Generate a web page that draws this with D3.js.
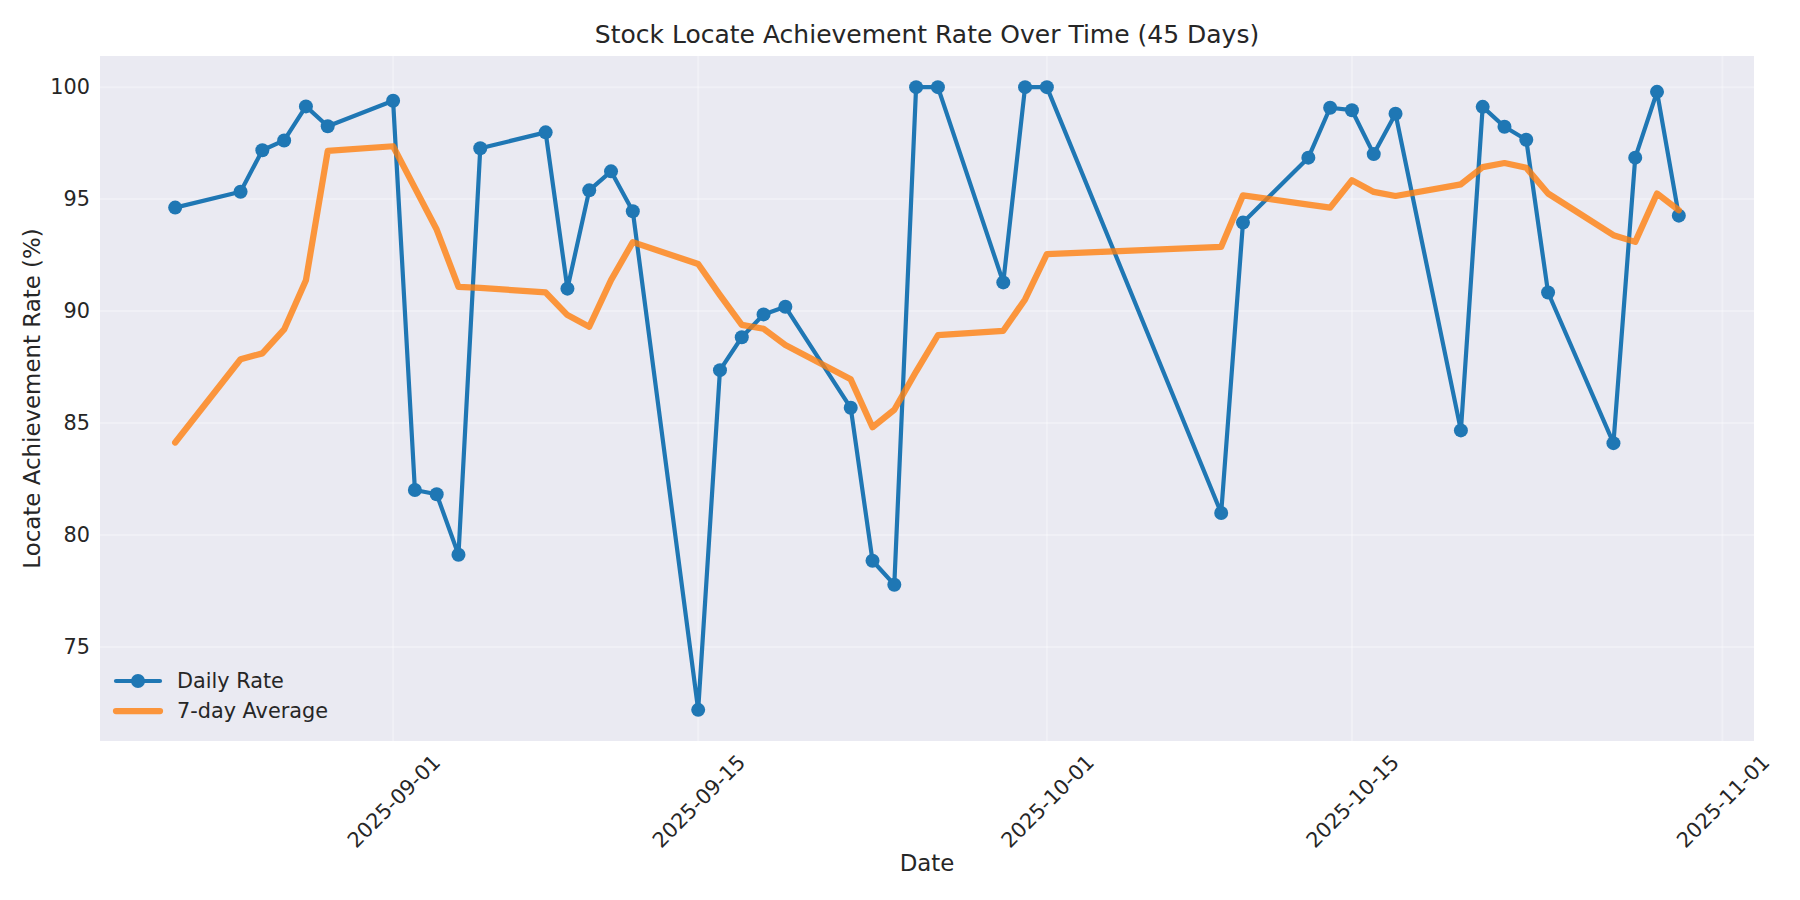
<!DOCTYPE html>
<html>
<head>
<meta charset="utf-8">
<script src="https://cdn.jsdelivr.net/npm/d3@7"></script>
<style>
	body { margin: 0; background: #fff; }
	svg { display: block; font-family: "DejaVu Sans", sans-serif; }
</style>
</head>
<body>
<script>

// chart data
var dates = [
	"2025-08-22","2025-08-25","2025-08-26","2025-08-27","2025-08-28","2025-08-29",
	"2025-09-01","2025-09-02","2025-09-03","2025-09-04","2025-09-05",
	"2025-09-08","2025-09-09","2025-09-10","2025-09-11","2025-09-12",
	"2025-09-15","2025-09-16","2025-09-17","2025-09-18","2025-09-19",
	"2025-09-22","2025-09-23","2025-09-24","2025-09-25","2025-09-26",
	"2025-09-29","2025-09-30","2025-10-01",
	"2025-10-09","2025-10-10",
	"2025-10-13","2025-10-14","2025-10-15","2025-10-16","2025-10-17",
	"2025-10-20","2025-10-21","2025-10-22","2025-10-23","2025-10-24",
	"2025-10-27","2025-10-28","2025-10-29","2025-10-30"
];

var dailyRate = [
	94.62, 95.33, 97.18, 97.62, 99.14, 98.25,
	99.39, 82.01, 81.82, 79.12, 97.27,
	97.98, 91.00, 95.39, 96.24, 94.46,
	72.19, 87.36, 88.83, 89.85, 90.19,
	85.68, 78.85, 77.78, 100.0, 100.0,
	91.28, 100.0, 100.0,
	80.98, 93.95,
	96.85, 99.08, 98.97, 97.01, 98.81,
	84.67, 99.12, 98.23, 97.65, 90.83,
	84.10, 96.85, 99.79, 94.26
];

var weekAverage = [
	84.13, 87.85, 88.11, 89.18, 91.38, 97.15,
	97.36, 95.50, 93.64, 91.08, 91.04,
	90.83, 89.82, 89.30, 91.38, 93.08,
	92.10, 90.71, 89.38, 89.21, 88.48,
	86.95, 84.81, 85.59, 87.30, 88.92,
	89.12, 90.52, 92.54,
	92.87, 95.17,
	94.75, 94.62, 95.84, 95.32, 95.14,
	95.66, 96.43, 96.61, 96.40, 95.25,
	93.39, 93.09, 95.25, 94.50
];

var yTicks = [75, 80, 85, 90, 95, 100];
var xTicks = ["2025-09-01", "2025-09-15", "2025-10-01", "2025-10-15", "2025-11-01"];

var titleText = "Stock Locate Achievement Rate Over Time (45 Days)";
var xLabel = "Date";
var yLabel = "Locate Achievement Rate (%)";
var seriesNames = ["Daily Rate", "7-day Average"];

var dim = {
	width: 1800,
	height: 900,
	left: 100, right: 1754, top: 56, bottom: 741
};

var textColor = "#262626";
var blue = "#1f77b4";
var orange = "#ff7f0e";

var parse = d3.utcParse("%Y-%m-%d");
var fmt = d3.utcFormat("%Y-%m-%d");

var daily = dates.map(function(d, i){ return { date: parse(d), value: dailyRate[i] }; });
var avg = dates.map(function(d, i){ return { date: parse(d), value: weekAverage[i] }; });

// matplotlib style 5% margins on both axes
var xExt = d3.extent(daily, function(d){ return d.date; });
var xPad = (xExt[1] - xExt[0]) * 0.05;
var yAll = dailyRate.concat(weekAverage);
var yExt = d3.extent(yAll);
var yPad = (yExt[1] - yExt[0]) * 0.05;

var x = d3.scaleUtc()
	.domain([new Date(+xExt[0] - xPad), new Date(+xExt[1] + xPad)])
	.range([dim.left, dim.right]);

var y = d3.scaleLinear()
	.domain([yExt[0] - yPad, yExt[1] + yPad])
	.range([dim.bottom, dim.top]);

var svg = d3.select("body").append("svg")
	.attr("width", dim.width)
	.attr("height", dim.height);

// plot background
svg.append("rect")
	.attr("x", dim.left)
	.attr("y", dim.top)
	.attr("width", dim.right - dim.left)
	.attr("height", dim.bottom - dim.top)
	.attr("fill", "#eaeaf2");

// grid lines
var grid = svg.append("g").attr("id", "grid-layer");

grid.selectAll("line.gy")
	.data(yTicks)
	.enter().append("line")
	.attr("class", "gy")
	.attr("x1", dim.left).attr("x2", dim.right)
	.attr("y1", function(d){ return y(d); })
	.attr("y2", function(d){ return y(d); })
	.attr("stroke", "#fff")
	.attr("stroke-opacity", 0.3)
	.attr("stroke-width", 2);

grid.selectAll("line.gx")
	.data(xTicks.map(parse))
	.enter().append("line")
	.attr("class", "gx")
	.attr("y1", dim.top).attr("y2", dim.bottom)
	.attr("x1", function(d){ return x(d); })
	.attr("x2", function(d){ return x(d); })
	.attr("stroke", "#fff")
	.attr("stroke-opacity", 0.3)
	.attr("stroke-width", 2);

// y axis (no tick marks, no domain line)
var yAxis = svg.append("g")
	.attr("transform", "translate(" + dim.left + ",0)")
	.call(d3.axisLeft(y).tickValues(yTicks).tickSize(0).tickPadding(10));

yAxis.select(".domain").remove();
yAxis.selectAll("text")
	.attr("font-size", 20.8)
	.attr("font-family", "DejaVu Sans")
	.attr("fill", textColor);

// x axis, labels rotated 45 degrees and centred under the tick
var xAxis = svg.append("g")
	.attr("transform", "translate(0," + dim.bottom + ")")
	.call(d3.axisBottom(x).tickValues(xTicks.map(parse)).tickFormat(fmt).tickSize(0));

xAxis.select(".domain").remove();
xAxis.selectAll("text")
	.attr("font-size", 20.8)
	.attr("font-family", "DejaVu Sans")
	.attr("fill", textColor)
	.attr("text-anchor", "middle")
	.attr("dy", "0.36em")
	.attr("y", 0)
	.each(function(){
		var w = this.getComputedTextLength();
		var cy = 12 + (w + 15) * Math.SQRT1_2 / 2;
		d3.select(this).attr("transform", "translate(0," + cy + ") rotate(-45)");
	});

// lines
var line = d3.line()
	.x(function(d){ return x(d.date); })
	.y(function(d){ return y(d.value); });

var main = svg.append("g").attr("id", "main-layer");

main.append("path")
	.datum(daily)
	.attr("d", line)
	.attr("fill", "none")
	.attr("stroke", blue)
	.attr("stroke-width", 4.2)
	.attr("stroke-linejoin", "round")
	.attr("stroke-linecap", "round");

main.selectAll("circle.pt")
	.data(daily)
	.enter().append("circle")
	.attr("class", "pt")
	.attr("cx", function(d){ return x(d.date); })
	.attr("cy", function(d){ return y(d.value); })
	.attr("r", 7)
	.attr("fill", blue);

main.append("path")
	.datum(avg)
	.attr("d", line)
	.attr("fill", "none")
	.attr("stroke", orange)
	.attr("stroke-opacity", 0.8)
	.attr("stroke-width", 6.25)
	.attr("stroke-linejoin", "round")
	.attr("stroke-linecap", "round");

// legend, lower left, no frame
var legend = svg.append("g").attr("id", "legend-layer");
var legendRows = [
	{ name: seriesNames[0], color: blue, width: 4.2, opacity: 1, marker: true, y: 681 },
	{ name: seriesNames[1], color: orange, width: 6.25, opacity: 0.8, marker: false, y: 711 }
];

legendRows.forEach(function(row){
	legend.append("line")
		.attr("x1", 116).attr("x2", 160)
		.attr("y1", row.y).attr("y2", row.y)
		.attr("stroke", row.color)
		.attr("stroke-opacity", row.opacity)
		.attr("stroke-width", row.width)
		.attr("stroke-linecap", "round");
	if(row.marker) {
		legend.append("circle")
			.attr("cx", 138).attr("cy", row.y)
			.attr("r", 7)
			.attr("fill", row.color);
	}
	appendText(legend, 177, row.y, row.name, 20.8)
		.attr("dy", "0.36em");
});

// titles
appendText(svg, (dim.left + dim.right) / 2, 43, titleText, 25)
	.attr("text-anchor", "middle");

appendText(svg, (dim.left + dim.right) / 2, 871, xLabel, 22.9)
	.attr("text-anchor", "middle");

appendText(svg, 0, 0, yLabel, 22.9)
	.attr("text-anchor", "middle")
	.attr("transform", "translate(40," + (dim.top + dim.bottom) / 2 + ") rotate(-90)");

function appendText(target, tx, ty, str, size){

	var text = target.append("text")
		.attr("x", tx)
		.attr("y", ty)
		.attr("font-size", size)
		.attr("fill", textColor)
		.text(str);

	return text;

}

</script>
</body>
</html>
